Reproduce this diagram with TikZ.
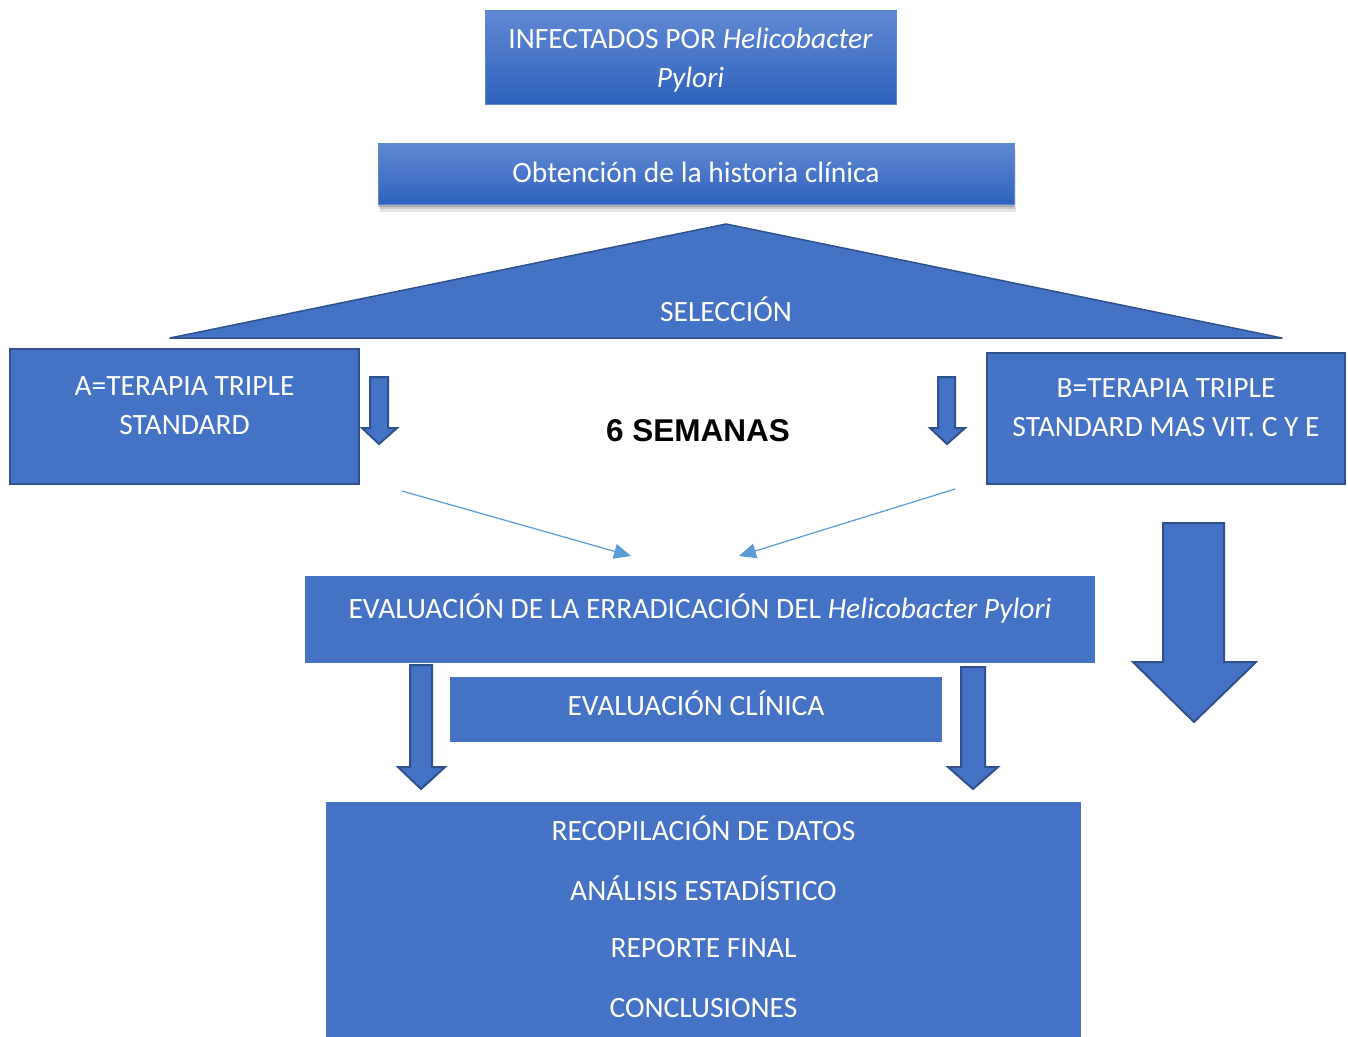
\documentclass[tikz,border=0pt]{standalone}
\usepackage{fontspec}
\setmainfont{Carlito}
\newfontfamily\arialfont{Liberation Sans}
\usetikzlibrary{shadows,arrows.meta}
\definecolor{bfill}{HTML}{4472C4}
\definecolor{bline}{HTML}{2F528F}
\definecolor{gtop}{HTML}{6089D3}
\definecolor{gbot}{HTML}{2F62BD}
\definecolor{gline}{HTML}{5B86D0}
\definecolor{thinc}{HTML}{5B9BD5}
\begin{document}
\begin{tikzpicture}[x=1pt,y=-1pt,
  txt/.style={text=white,font=\fontsize{29.5}{39}\selectfont,align=center,inner sep=0pt},
  gbox/.style={top color=gtop,bottom color=gbot,draw=gline,line width=0.8pt,inner sep=0pt},
  pbox/.style={fill=bfill,draw=bline,line width=2pt,inner sep=0pt},
  fbox/.style={fill=bfill,draw=none,inner sep=0pt},
  barrow/.style={fill=bfill,draw=bline,line width=2pt,line join=miter},
  thinarrow/.style={draw=thinc,line width=1.2pt,-{Triangle[length=17pt,width=15pt]}}
]
\clip (0,0) rectangle (1348,1036);
\fill[white] (0,0) rectangle (1348,1036);

% top box
\node[gbox,minimum width=411pt,minimum height=94pt] (inf) at (690.5,57) {};
\node[txt] (inft) at (690.5,60) {INFECTADOS POR \textit{Helicobacter}\\\textit{Pylori}};

% second box with soft shadow
\fill[black,opacity=0.10] (380,150) rectangle (1016,212);
\fill[black,opacity=0.12] (379,148) rectangle (1015,209);
\fill[black,opacity=0.15] (378,146) rectangle (1014,207);
\node[gbox,minimum width=636pt,minimum height=61pt] (hist) at (696,173.5) {};
\node[txt] (histt) at (696,172) {Obtención de la historia clínica};

% selection triangle
\draw[fill=bfill,draw=bline,line width=1.5pt,line join=round] (726,224) -- (1282,338) -- (170,338) -- cycle;
\node[txt] (sel) at (726,309) {SELECCIÓN};

% boxes A and B
\node[pbox,minimum width=349pt,minimum height=135pt] (boxa) at (184.5,416.5) {};
\node[txt] (boxat) at (184.5,405.5) {A=TERAPIA TRIPLE\\STANDARD};
\node[pbox,minimum width=358pt,minimum height=131pt] (boxb) at (1166,418.5) {};
\node[txt] (boxbt) at (1166,407.5) {B=TERAPIA TRIPLE\\STANDARD MAS VIT. C Y E};

% small block arrows
\draw[barrow] (370,377) -- (388,377) -- (388,428) -- (397,428) -- (379,444) -- (362,428) -- (370,428) -- cycle;
\draw[barrow] (938,377) -- (955,377) -- (955,428) -- (965,428) -- (947,444) -- (930,428) -- (938,428) -- cycle;

\node[font=\arialfont\bfseries\fontsize{31.5}{36}\selectfont,inner sep=0pt] (sem) at (698,431) {6 SEMANAS};

% thin arrows
\coordinate (ta1) at (402,491);
\coordinate (ta2) at (631,556);
\coordinate (tb1) at (955,489);
\coordinate (tb2) at (739,556);
\draw[thinarrow] (ta1) -- (ta2);
\draw[thinarrow] (tb1) -- (tb2);

% big arrow right
\draw[barrow] (1163,523) -- (1224,523) -- (1224,662) -- (1256,662) -- (1194,722) -- (1133,662) -- (1163,662) -- cycle;

% evaluation box
\node[fbox,minimum width=790pt,minimum height=87pt] (eval) at (700,619.5) {};
\node[txt] (evalt) at (700,609) {EVALUACIÓN DE LA ERRADICACIÓN DEL \textit{Helicobacter Pylori}};

% lower arrows
\draw[barrow] (410,665) -- (432,665) -- (432,767) -- (445,767) -- (421,789) -- (398,767) -- (410,767) -- cycle;
\draw[barrow] (961,667) -- (985,667) -- (985,767) -- (998,767) -- (973,789) -- (948,767) -- (961,767) -- cycle;

% clinical evaluation box
\node[fbox,minimum width=492pt,minimum height=65pt] (clin) at (696,709.5) {};
\node[txt] (clint) at (696,703) {EVALUACIÓN CLÍNICA};

% final box
\node[fbox,minimum width=755pt,minimum height=250pt] (fin) at (703.5,927) {};
\node[txt] (fin1) at (703.5,828) {RECOPILACIÓN DE DATOS};
\node[txt] (fin2) at (703.5,888) {ANÁLISIS ESTADÍSTICO};
\node[txt] (fin3) at (703.5,948) {REPORTE FINAL};
\node[txt] (fin4) at (703.5,1008) {CONCLUSIONES};
\end{tikzpicture}
\end{document}
